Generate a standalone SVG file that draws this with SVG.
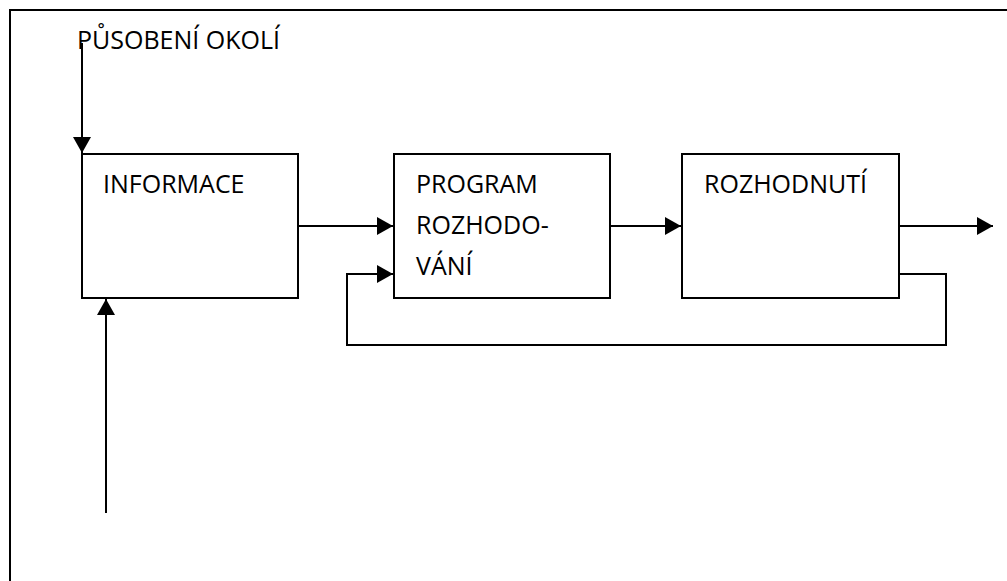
<svg xmlns="http://www.w3.org/2000/svg" width="1007" height="581" viewBox="0 0 1007 581">
<defs>
<style>
.box{fill:#fff;stroke:#000;stroke-width:2}
.ln{fill:none;stroke:#000;stroke-width:2}
.t{font-family:"Open Sans","Noto Sans",sans-serif;font-size:25px;fill:#000}
</style>
<marker id="ah" viewBox="0 0 16 18" refX="16" refY="9" markerWidth="16" markerHeight="18" markerUnits="userSpaceOnUse" orient="auto">
<path d="M0,0 L16,9 L0,18 Z" fill="#000"/>
</marker>
</defs>
<rect width="1007" height="581" fill="#fff"/>
<path class="ln" d="M10,600 V10 H1010"/>
<g id="label-okoli"><text class="t" x="77" y="49">PŮSOBENÍ OKOLÍ</text></g>
<g id="informace">
<rect class="box" x="82" y="154" width="216" height="144"/>
<text class="t" x="103" y="193">INFORMACE</text>
</g>
<g id="program">
<rect class="box" x="394" y="154" width="216" height="144"/>
<text class="t" x="416" y="193">PROGRAM</text>
<text class="t" x="416" y="234">ROZHODO-</text>
<text class="t" x="416" y="275">VÁNÍ</text>
</g>
<g id="rozhodnuti">
<rect class="box" x="682" y="154" width="217" height="144"/>
<text class="t" x="704" y="193">ROZHODNUTÍ</text>
</g>
<g id="connectors">
<path class="ln" d="M82,43 V153" marker-end="url(#ah)"/>
<path class="ln" d="M106,513 V299" marker-end="url(#ah)"/>
<path class="ln" d="M298,226 H393" marker-end="url(#ah)"/>
<path class="ln" d="M610,226 H681" marker-end="url(#ah)"/>
<path class="ln" d="M899,226 H993" marker-end="url(#ah)"/>
<path class="ln" d="M899,274 H946 V345 H347 V274 H393" marker-end="url(#ah)"/>
</g>
</svg>
